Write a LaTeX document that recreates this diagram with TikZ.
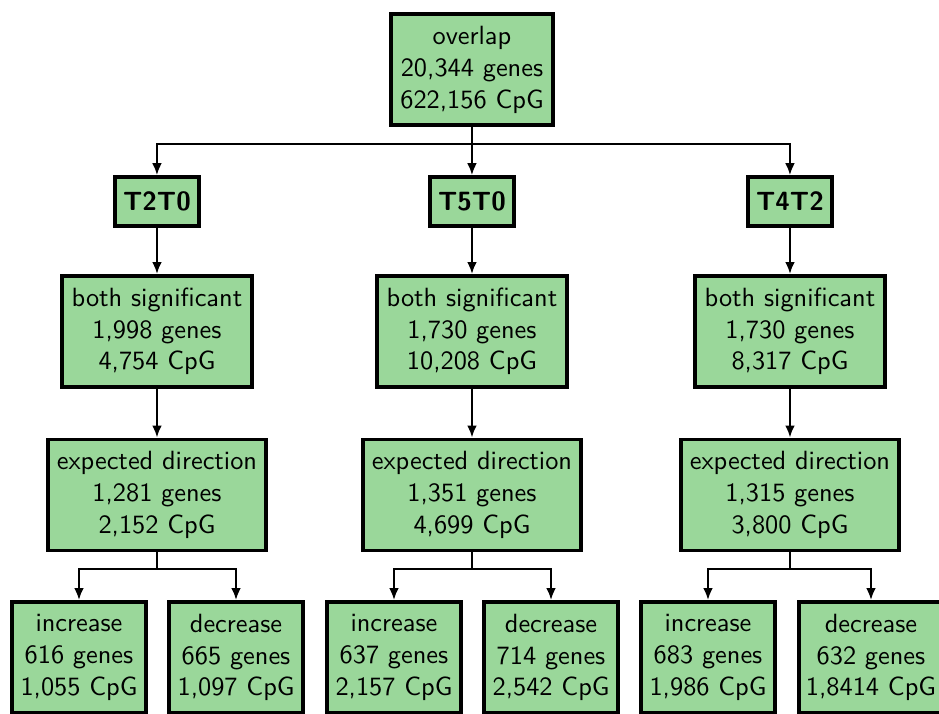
\documentclass[tikz,border=0pt]{standalone}
\usetikzlibrary{arrows.meta}
\usepackage{xcolor}
\definecolor{BoxGreen}{HTML}{9AD79A}
\definecolor{BoxBlack}{HTML}{000000}
\tikzset{
    % Box styles - all sharp corners
    countbox/.style={
        rectangle,
        draw=BoxBlack,
        fill=BoxGreen,
        line width=1.5pt,
        minimum width=2.53cm,
        minimum height=1.48cm,
        inner sep=0pt,
        align=center,
        font=\sffamily
    },
    groupbox/.style={
        rectangle,
        draw=BoxBlack,
        fill=BoxGreen,
        line width=1.5pt,
        minimum width=1.13cm,
        minimum height=0.65cm,
        inner sep=0pt,
        align=center,
        font=\sffamily\bfseries
    },
    % Arrow styles - straight lines only
    connector/.style={
        line width=0.8pt,
        draw=BoxBlack
    },
    arrow/.style={
        -{Latex[length=1.6mm, width=1.3mm]},
        line width=0.8pt,
        draw=BoxBlack
    }
}

\begin{document}
\begin{tikzpicture}
    \useasboundingbox (0,0) rectangle (12.52,-9.507);

    \node[countbox, minimum width=2.15cm] (overlap) at (6.293,-0.933) {overlap\\20,344 genes\\622,156 CpG};
    \coordinate (split) at (6.293,-1.92);

    % T2T0
    \node[groupbox] (t2t0) at (2.093,-2.687) {T2T0};
    \node[countbox] (sigA) at (2.093,-4.42) {both significant\\1,998 genes\\4,754 CpG};
    \node[countbox, minimum width=2.9cm] (dirA) at (2.093,-6.6) {expected direction\\1,281 genes\\2,152 CpG};
    \coordinate (splitA) at (2.093,-7.587);
    \node[countbox, minimum width=1.79cm] (incA) at (1.053,-8.767) {increase\\616 genes\\1,055 CpG};
    \node[countbox, minimum width=1.79cm] (decA) at (3.147,-8.767) {decrease\\665 genes\\1,097 CpG};

    % T5T0
    \node[groupbox] (t5t0) at (6.293,-2.687) {T5T0};
    \node[countbox] (sigB) at (6.293,-4.42) {both significant\\1,730 genes\\10,208 CpG};
    \node[countbox, minimum width=2.9cm] (dirB) at (6.293,-6.6) {expected direction\\1,351 genes\\4,699 CpG};
    \coordinate (splitB) at (6.293,-7.587);
    \node[countbox, minimum width=1.79cm] (incB) at (5.253,-8.767) {increase\\637 genes\\2,157 CpG};
    \node[countbox, minimum width=1.79cm] (decB) at (7.347,-8.767) {decrease\\714 genes\\2,542 CpG};

    % T4T2
    \node[groupbox] (t4t2) at (10.533,-2.687) {T4T2};
    \node[countbox] (sigC) at (10.533,-4.42) {both significant\\1,730 genes\\8,317 CpG};
    \node[countbox, minimum width=2.9cm] (dirC) at (10.533,-6.6) {expected direction\\1,315 genes\\3,800 CpG};
    \coordinate (splitC) at (10.533,-7.587);
    \node[countbox, minimum width=1.79cm] (incC) at (9.44,-8.767) {increase\\683 genes\\1,986 CpG};
    \node[countbox, minimum width=1.92cm] (decC) at (11.613,-8.767) {decrease\\632 genes\\1,8414 CpG};

    \draw[connector] (overlap) -- (split);
    \draw[arrow] (split) -| (t2t0);
    \draw[arrow] (split) -- (t5t0);
    \draw[arrow] (split) -| (t4t2);

    \draw[arrow] (t2t0) -- (sigA);
    \draw[arrow] (sigA) -- (dirA);
    \draw[connector] (dirA) -- (splitA);
    \draw[arrow] (splitA) -| (incA);
    \draw[arrow] (splitA) -| (decA);

    \draw[arrow] (t5t0) -- (sigB);
    \draw[arrow] (sigB) -- (dirB);
    \draw[connector] (dirB) -- (splitB);
    \draw[arrow] (splitB) -| (incB);
    \draw[arrow] (splitB) -| (decB);

    \draw[arrow] (t4t2) -- (sigC);
    \draw[arrow] (sigC) -- (dirC);
    \draw[connector] (dirC) -- (splitC);
    \draw[arrow] (splitC) -| (incC);
    \draw[arrow] (splitC) -| (decC);
\end{tikzpicture}
\end{document}
